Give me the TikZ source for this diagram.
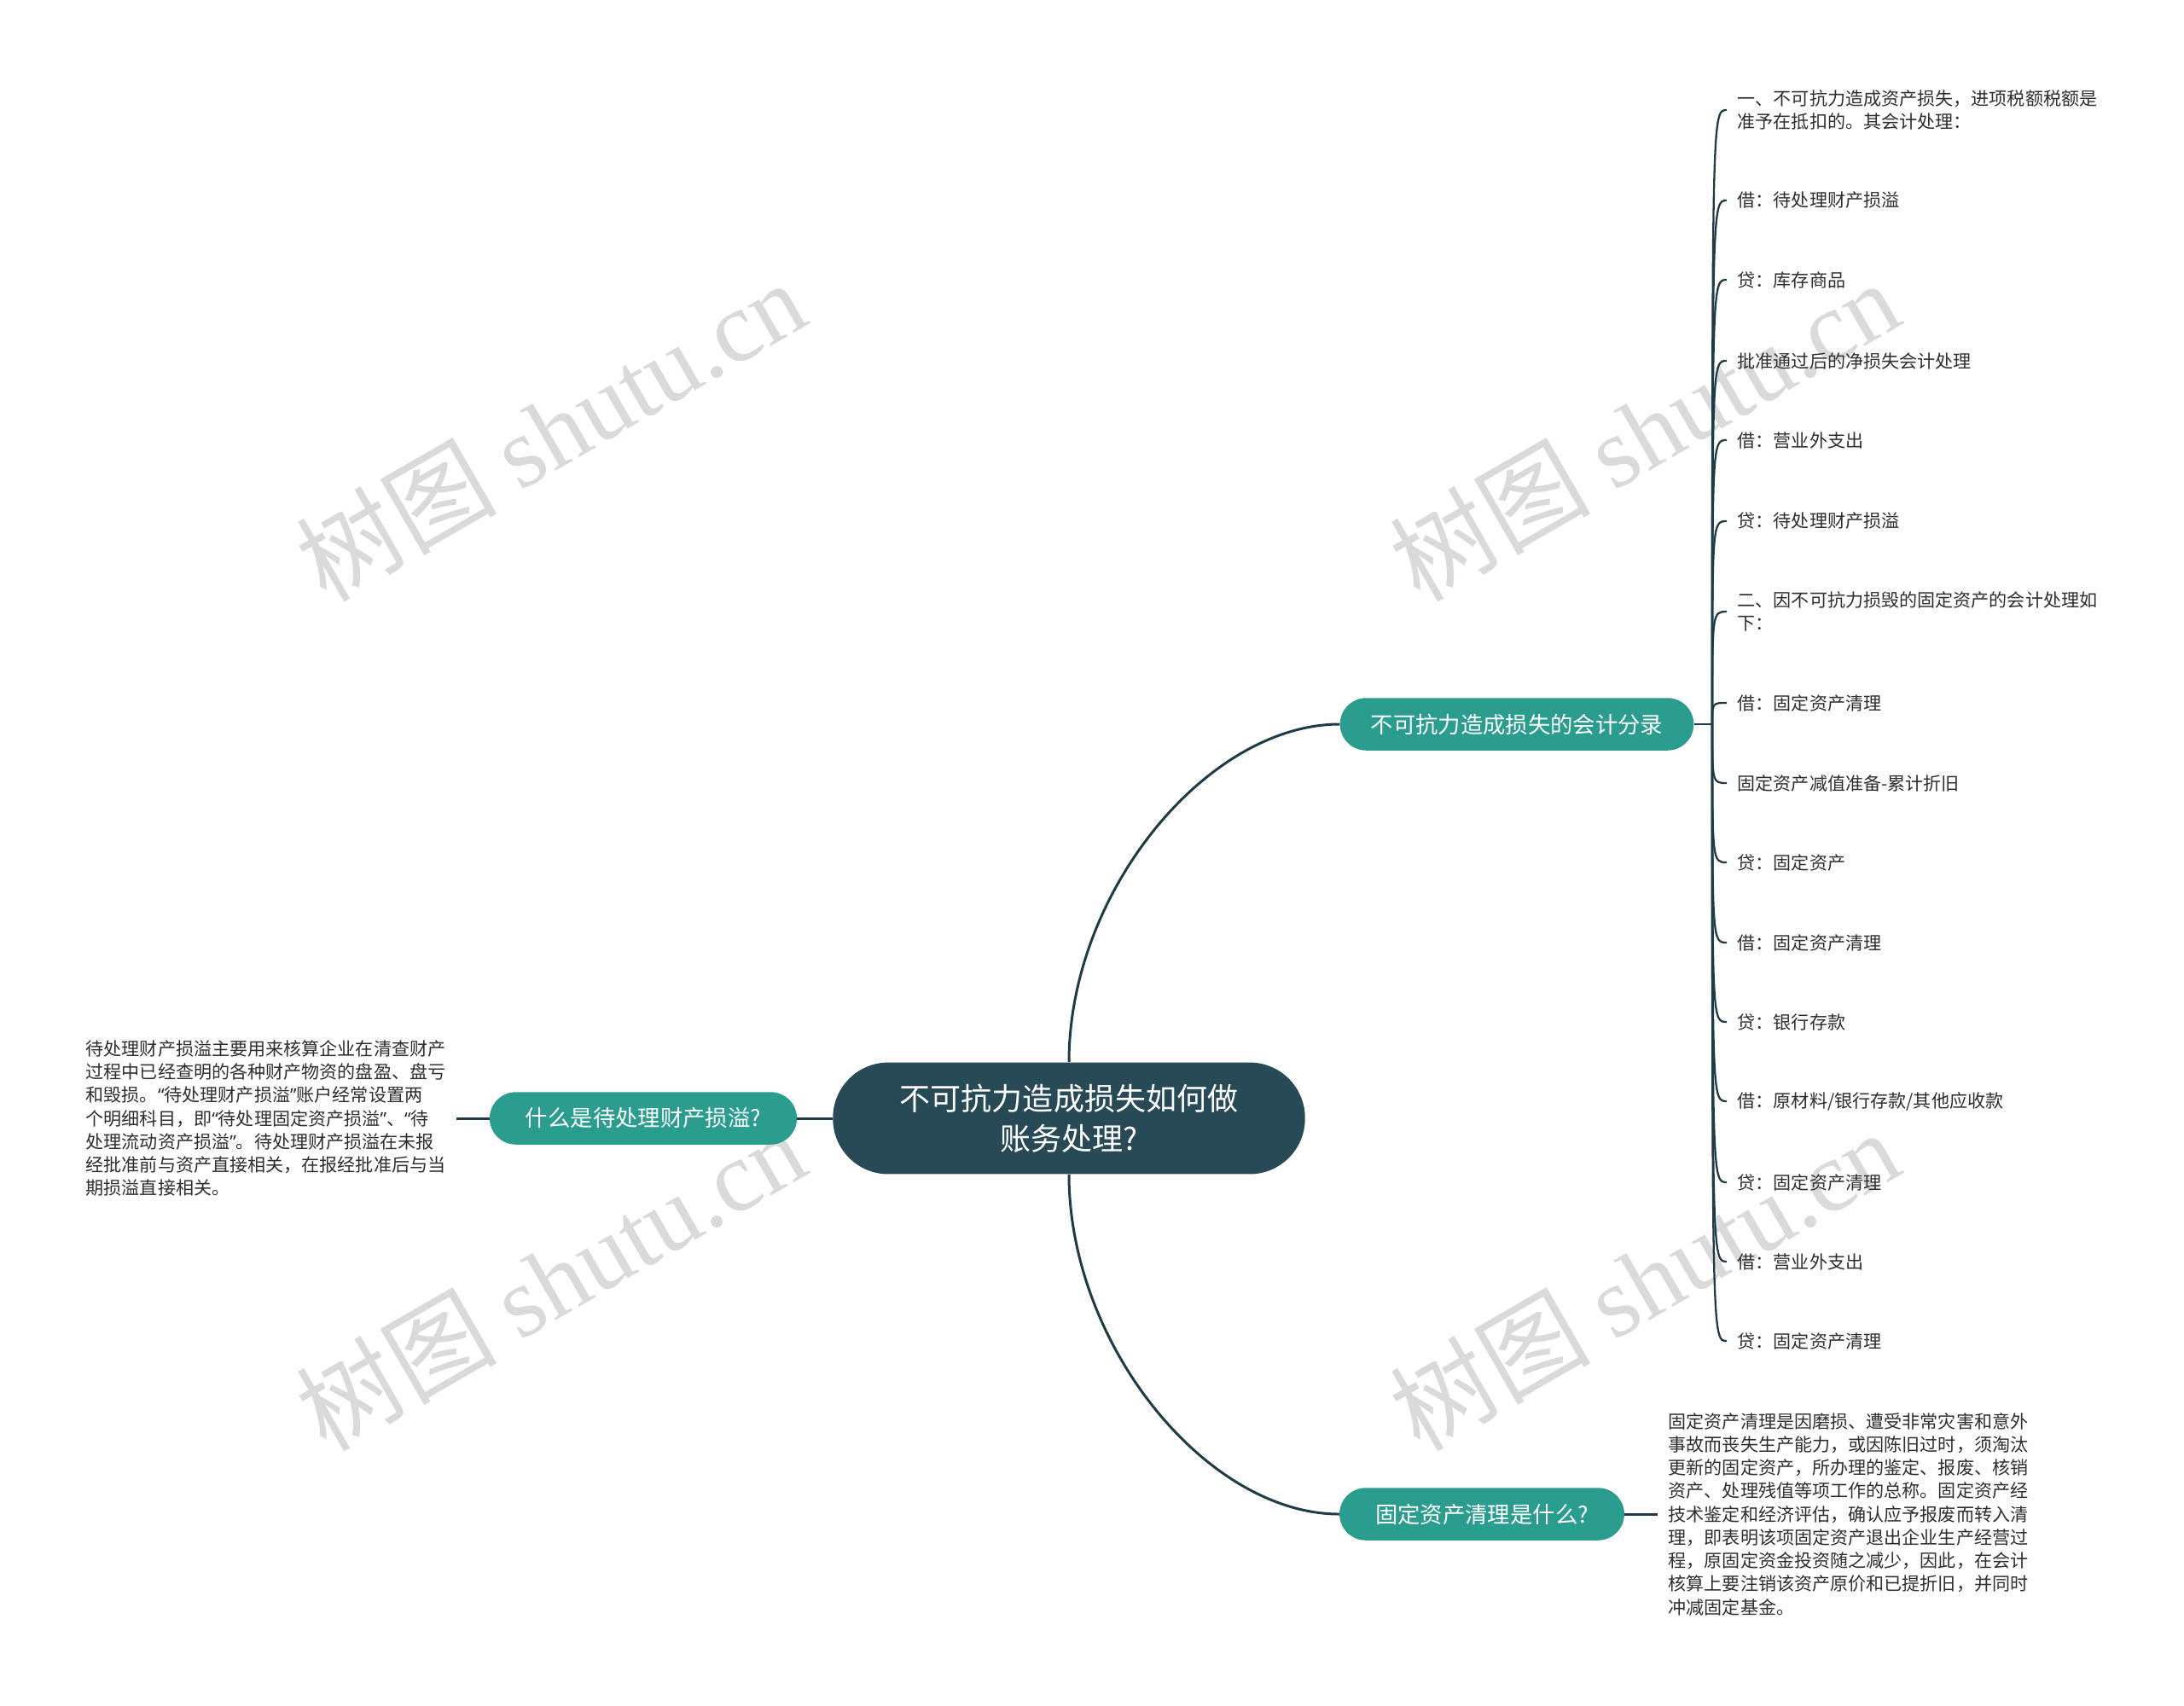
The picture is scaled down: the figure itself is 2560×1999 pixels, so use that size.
\documentclass[tikz,border=0pt]{standalone}
\usepackage{fontspec}
\setmainfont{Noto Sans CJK SC}
\newfontfamily\marklatin{Liberation Serif}
\newfontfamily\quotefont{Noto Sans}
\newcommand{\qopen}{{\quotefont “}}
\newcommand{\qclose}{{\quotefont ”}}
\usepackage{xcolor}
\definecolor{rootfill}{HTML}{274A56}
\definecolor{topicfill}{HTML}{2A9D8E}
\definecolor{linkcol}{HTML}{1F3B48}
\definecolor{leaftext}{HTML}{2E2E2E}
\definecolor{wmarkgray}{HTML}{DADADA}
\usepackage{tikz}

\begin{document}
\begin{tikzpicture}[x=0.02cm, y=-0.02cm,
  root/.style={fill=rootfill, text=white, rounded corners=37pt, minimum width=315pt,
    minimum height=74.5pt, align=center, font=\fontsize{20.5}{27}\selectfont},
  topic/.style={fill=topicfill, text=white, rounded corners=17.5pt, minimum height=35pt,
    inner xsep=10pt, font=\fontsize{15}{18}\selectfont},
  leaf/.style={anchor=west, text=leaftext, inner xsep=7pt, align=left,
    font=\fontsize{12}{15}\selectfont},
  note/.style={text=leaftext, inner xsep=7pt, align=left, font=\fontsize{12}{15.5}\selectfont},
  link/.style={draw=linkcol, line width=1.7pt},
  twig/.style={draw=linkcol, line width=1.3pt},
  wmark/.style={text=wmarkgray, rotate=30, font=\fontsize{67}{67}\selectfont}]
  \useasboundingbox (0,0) rectangle (2560,1999);

  % Watermarks
  \foreach \wx/\wy in {645/504, 1927/504, 645/1500, 1927/1500}
    \node[wmark] at (\wx,\wy) {树图 {\marklatin shutu.cn}};

  % Root and topics
  \node[root] (root) at (1253,1311) {不可抗力造成损失如何做\\账务处理?};
  \node[topic, minimum width=236pt] (entry) at (1778,849) {不可抗力造成损失的会计分录};
  \node[topic, minimum width=205pt] (pending) at (754,1311) {什么是待处理财产损溢?};
  \node[topic, minimum width=190pt] (clear) at (1737,1775) {固定资产清理是什么?};

  % Notes
  \node[note, anchor=east] (pendnote) at (535,1311) {待处理财产损溢主要用来核算企业在清查财产\\过程中已经查明的各种财产物资的盘盈、盘亏\\和毁损。\qopen 待处理财产损溢\qclose 账户经常设置两\\个明细科目，即\qopen 待处理固定资产损溢\qclose 、\qopen 待\\处理流动资产损溢\qclose 。待处理财产损溢在未报\\经批准前与资产直接相关，在报经批准后与当\\期损溢直接相关。};
  \node[note, anchor=west] (clearnote) at (1943,1775) {固定资产清理是因磨损、遭受非常灾害和意外\\事故而丧失生产能力，或因陈旧过时，须淘汰\\更新的固定资产，所办理的鉴定、报废、核销\\资产、处理残值等项工作的总称。固定资产经\\技术鉴定和经济评估，确认应予报废而转入清\\理，即表明该项固定资产退出企业生产经营过\\程，原固定资金投资随之减少，因此，在会计\\核算上要注销该资产原价和已提折旧，并同时\\冲减固定基金。};

  % Connectors
  \draw[link] (root.west) -- (pending.east);
  \draw[link] (pending.west) -- (pendnote.east);
  \draw[link] (clear.east) -- (clearnote.west);
  \draw[link] (root.north) .. controls +(0,-200) and +(-155,0) .. (entry.west);
  \draw[link] (root.south) .. controls +(0,200) and +(-155,0) .. (clear.west);

  % Entries
  \coordinate (fork) at (2007,849);
  \draw[twig] (entry.east) -- (fork);
  \foreach \i/\ly/\txt in {
      1/129/{一、不可抗力造成资产损失，进项税额税额是\\准予在抵扣的。其会计处理：},
      2/235/{借：待处理财产损溢},
      3/328/{贷：库存商品},
      4/423/{批准通过后的净损失会计处理},
      5/516/{借：营业外支出},
      6/611/{贷：待处理财产损溢},
      7/717/{二、因不可抗力损毁的固定资产的会计处理如\\下：},
      8/824/{借：固定资产清理},
      9/918/{固定资产减值准备-累计折旧},
      10/1011/{贷：固定资产},
      11/1105/{借：固定资产清理},
      12/1198/{贷：银行存款},
      13/1291/{借：原材料/银行存款/其他应收款},
      14/1386/{贷：固定资产清理},
      15/1479/{借：营业外支出},
      16/1572/{贷：固定资产清理}} {
    \node[leaf] (leaf\i) at (2024,\ly) {\txt};
    \draw[twig] (fork) .. controls (fork |- leaf\i.west) .. (leaf\i.west);
  }
\end{tikzpicture}
\end{document}
